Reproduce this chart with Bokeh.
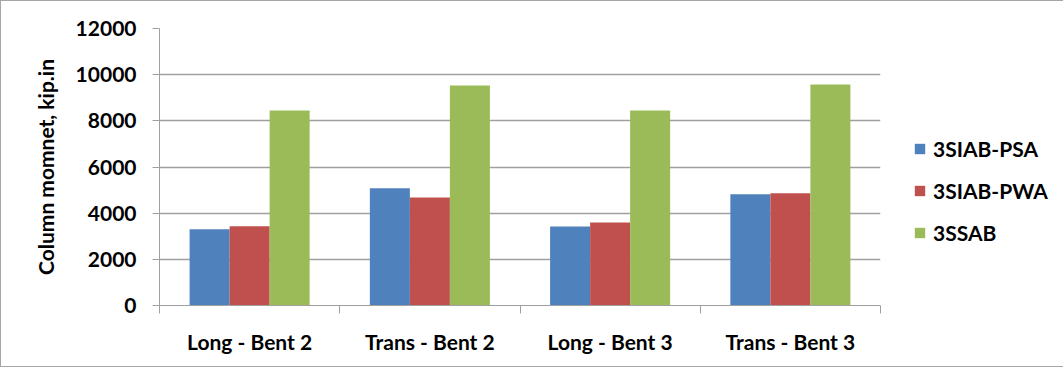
from bokeh.plotting import figure
from bokeh.models import ColumnDataSource, FixedTicker, Legend, LegendItem
from bokeh.transform import dodge
from bokeh.embed import file_html
from bokeh.resources import INLINE

categories = ["Long - Bent 2", "Trans - Bent 2", "Long - Bent 3", "Trans - Bent 3"]
series_names = ["3SIAB-PSA", "3SIAB-PWA", "3SSAB"]
psa = [3300, 5080, 3420, 4820]
pwa = [3430, 4680, 3600, 4860]
ssab = [8450, 9530, 8450, 9570]
colors = ["#4F81BD", "#C0504D", "#9BBB59"]
y_ticks = [0, 2000, 4000, 6000, 8000, 10000, 12000]

FONT = "Lato"
centers = [i + 0.5 for i in range(len(categories))]
src = ColumnDataSource(dict(x=centers, psa=psa, pwa=pwa, ssab=ssab))

p = figure(frame_width=721, frame_height=277, x_range=(0, len(categories)), y_range=(0, 12000),
           output_backend="svg", toolbar_location=None,
           min_border_left=158, min_border_right=168, min_border_top=27, min_border_bottom=61)
p.styles = {"border": "1px solid #a6a6a6"}
p.outline_line_color = None
p.background_fill_color = "white"
p.border_fill_color = "white"

bw = 0.222
renderers = []
for k, (col, c) in enumerate(zip(["psa", "pwa", "ssab"], colors)):
    r = p.vbar(x=dodge("x", (k - 1) * bw, range=p.x_range), top=col, width=bw,
               source=src, fill_color=c, line_color=None)
    renderers.append(r)

# x axis
p.xaxis.ticker = FixedTicker(ticks=centers, minor_ticks=list(range(len(categories) + 1)))
p.xaxis.major_label_overrides = {c: lab for c, lab in zip(centers, categories)}
p.xaxis.major_tick_out = 0
p.xaxis.major_tick_in = 0
p.xaxis.minor_tick_out = 8
p.xaxis.minor_tick_in = 0
p.xaxis.minor_tick_line_color = "#a0a0a0"
p.xaxis.axis_line_color = "#a0a0a0"
p.xaxis.major_label_standoff = 15
p.xaxis.major_label_text_font = FONT
p.xaxis.major_label_text_font_style = "bold"
p.xaxis.major_label_text_font_size = "21px"
p.xaxis.major_label_text_color = "black"
p.xgrid.grid_line_color = None

# y axis
p.yaxis.ticker = FixedTicker(ticks=y_ticks)
p.yaxis.minor_tick_line_color = None
p.yaxis.major_tick_out = 7
p.yaxis.major_tick_in = 0
p.yaxis.major_tick_line_color = "#a0a0a0"
p.yaxis.axis_line_color = "#a0a0a0"
p.yaxis.major_label_standoff = 16
p.yaxis.major_label_text_font = FONT
p.yaxis.major_label_text_font_style = "bold"
p.yaxis.major_label_text_font_size = "21px"
p.yaxis.major_label_text_color = "black"
p.yaxis.axis_label = "Column momnet, kip.in"
p.yaxis.axis_label_text_font = FONT
p.yaxis.axis_label_text_font_style = "bold"
p.yaxis.axis_label_text_font_size = "21px"
p.yaxis.axis_label_text_color = "black"
p.yaxis.axis_label_standoff = 15
p.ygrid.grid_line_color = "#a0a0a0"
p.ygrid.grid_line_width = 1.5

legend = Legend(items=[LegendItem(label=n, renderers=[r]) for n, r in zip(series_names, renderers)],
                location=(33, 60), border_line_color=None, background_fill_alpha=0,
                padding=0, margin=0, glyph_width=13, glyph_height=13, label_height=13,
                spacing=17, label_standoff=7,
                label_text_font=FONT, label_text_font_style="bold",
                label_text_font_size="21px", label_text_color="black")
p.add_layout(legend, "right")

open("out.html", "w").write(file_html(p, INLINE))
